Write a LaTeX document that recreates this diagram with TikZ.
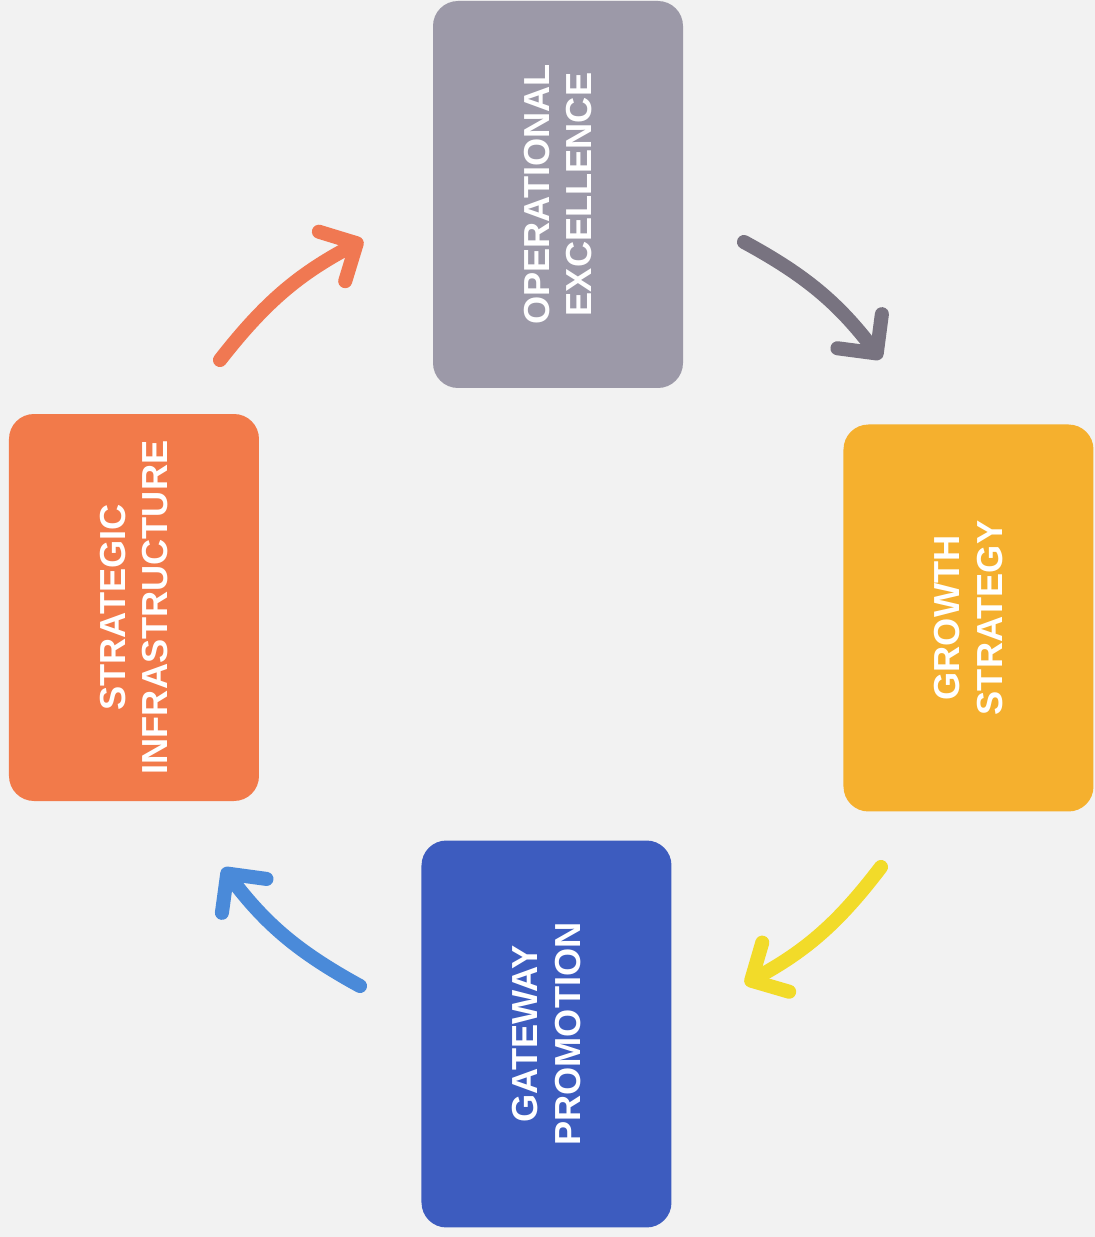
\documentclass[tikz,border=0pt]{standalone}
\usepackage{fontspec}
\setmainfont{Liberation Sans}
\usepackage{xcolor}
\definecolor{PaperGray}{rgb}{0.95, 0.95, 0.95}
\definecolor{BoxOperational}{rgb}{0.61, 0.60, 0.66}
\definecolor{BoxGrowth}{rgb}{0.96, 0.69, 0.18}
\definecolor{BoxGateway}{rgb}{0.24, 0.36, 0.75}
\definecolor{BoxInfra}{rgb}{0.95, 0.48, 0.29}
\definecolor{ArrowOrange}{rgb}{0.94, 0.47, 0.32}
\definecolor{ArrowGray}{rgb}{0.47, 0.45, 0.50}
\definecolor{ArrowYellow}{rgb}{0.95, 0.86, 0.16}
\definecolor{ArrowBlue}{rgb}{0.29, 0.54, 0.85}
\usepackage{tikz}
\usetikzlibrary{positioning,arrows.meta}

\tikzset{
	stagebox/.style={rounded corners=0.25cm, rotate=90, text=white, align=center,
		font=\fontsize{10.3}{12}\selectfont\bfseries, inner sep=0pt,
		minimum width=3.87cm, minimum height=2.5cm},
	cyclearrow/.style={line width=4pt, line cap=round, bend left=12,
		-{Straight Barb[length=0.28cm, width=0.56cm, round]}}
}

\begin{document}
\begin{tikzpicture}
	\fill[PaperGray] (0,0) rectangle (10.95,12.37);
	\useasboundingbox (0,0) rectangle (10.95,12.37);
	% stages
	\node[stagebox, fill=BoxOperational] (oe) at (5.58, 10.425) {OPERATIONAL\\EXCELLENCE};
	\node[stagebox, fill=BoxGrowth]      (gs) at (9.685, 6.19)  {GROWTH\\STRATEGY};
	\node[stagebox, fill=BoxGateway]     (gp) at (5.465, 2.03)  {GATEWAY\\PROMOTION};
	\node[stagebox, fill=BoxInfra]       (si) at (1.34, 6.295)  {STRATEGIC\\INFRASTRUCTURE};
	% arrow ends
	\coordinate (si-oe-s) at (2.20, 8.77);
	\coordinate (si-oe-e) at (3.63, 9.97);
	\coordinate (oe-gs-s) at (7.44, 9.95);
	\coordinate (oe-gs-e) at (8.81, 8.78);
	\coordinate (gs-gp-s) at (8.81, 3.70);
	\coordinate (gs-gp-e) at (7.45, 2.53);
	\coordinate (gp-si-s) at (3.60, 2.51);
	\coordinate (gp-si-e) at (2.23, 3.69);
	% cycle
	\draw[cyclearrow, ArrowOrange] (si-oe-s) to (si-oe-e);
	\draw[cyclearrow, ArrowGray]   (oe-gs-s) to (oe-gs-e);
	\draw[cyclearrow, ArrowYellow] (gs-gp-s) to (gs-gp-e);
	\draw[cyclearrow, ArrowBlue]   (gp-si-s) to (gp-si-e);
\end{tikzpicture}
\end{document}
